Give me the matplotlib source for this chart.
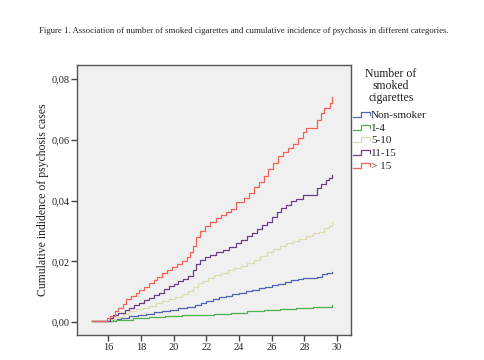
import matplotlib
matplotlib.use("Agg")
import matplotlib.pyplot as plt
from matplotlib.lines import Line2D
from matplotlib.legend_handler import HandlerLine2D
from matplotlib.ticker import FuncFormatter

plt.rcParams['font.family'] = ['Liberation Serif', 'DejaVu Serif']

# dados (idade, incidencia acumulada)
ageNonSmoker = [15.0, 16.3, 16.8, 17.3, 17.8, 18.3, 18.8, 19.3, 19.8, 20.3, 20.8, 21.3, 21.7, 22.0,
                22.4, 22.8, 23.2, 23.6, 24.0, 24.4, 24.8, 25.2, 25.6, 26.0, 26.4, 26.8, 27.2, 27.6,
                27.9, 28.8, 29.1, 29.4, 29.7]
valNonSmoker = [0.0005, 0.0010, 0.0014, 0.0019, 0.0023, 0.0028, 0.0032, 0.0036, 0.0041, 0.0045,
                0.0050, 0.0055, 0.0062, 0.0070, 0.0076, 0.0082, 0.0087, 0.0091, 0.0095, 0.0101,
                0.0107, 0.0112, 0.0117, 0.0122, 0.0127, 0.0132, 0.0137, 0.0141, 0.0145, 0.0150,
                0.0158, 0.0162, 0.0166]

age1to4 = [15.0, 16.5, 17.5, 18.5, 19.5, 20.5, 21.5, 22.5, 23.5, 24.5, 25.5, 26.5, 27.5, 28.5, 29.7]
val1to4 = [0.0005, 0.0008, 0.0012, 0.0016, 0.0019, 0.0022, 0.0024, 0.0027, 0.0031, 0.0035,
           0.0039, 0.0043, 0.0047, 0.0051, 0.0056]

age5to10 = [15.0, 16.1, 16.5, 16.9, 17.3, 17.7, 18.1, 18.5, 18.9, 19.3, 19.7, 20.1, 20.5, 20.9,
            21.2, 21.5, 21.8, 22.1, 22.5, 22.9, 23.3, 23.7, 24.1, 24.5, 24.9, 25.3, 25.7, 26.1,
            26.5, 26.9, 27.3, 27.7, 28.1, 28.5, 28.9, 29.2, 29.5, 29.7]
val5to10 = [0.0005, 0.0010, 0.0018, 0.0026, 0.0035, 0.0042, 0.0048, 0.0054, 0.0062, 0.0068,
            0.0075, 0.0082, 0.0092, 0.0102, 0.0115, 0.0128, 0.0136, 0.0145, 0.0155, 0.0162,
            0.0170, 0.0177, 0.0185, 0.0195, 0.0205, 0.0218, 0.0230, 0.0240, 0.0250, 0.0260,
            0.0268, 0.0275, 0.0282, 0.0292, 0.0298, 0.0310, 0.0318, 0.0330]

age11to15 = [15.0, 16.1, 16.3, 16.6, 17.0, 17.3, 17.6, 17.9, 18.2, 18.5, 18.8, 19.1, 19.4, 19.7,
             20.0, 20.3, 20.6, 20.9, 21.2, 21.4, 21.6, 21.9, 22.2, 22.6, 23.0, 23.4, 23.8, 24.1,
             24.5, 24.8, 25.1, 25.4, 25.7, 26.0, 26.3, 26.6, 26.9, 27.2, 27.5, 27.9, 28.8, 29.0,
             29.3, 29.5, 29.7]
val11to15 = [0.0005, 0.0012, 0.0022, 0.0030, 0.0040, 0.0048, 0.0056, 0.0064, 0.0072, 0.0080,
             0.0088, 0.0097, 0.0108, 0.0118, 0.0126, 0.0134, 0.0142, 0.0152, 0.0170, 0.0190,
             0.0205, 0.0215, 0.0222, 0.0230, 0.0238, 0.0248, 0.0260, 0.0270, 0.0282, 0.0295,
             0.0308, 0.0320, 0.0330, 0.0345, 0.0362, 0.0375, 0.0385, 0.0398, 0.0405, 0.0418,
             0.0440, 0.0455, 0.0467, 0.0475, 0.0485]

ageOver15 = [15.0, 15.9, 16.1, 16.4, 16.6, 16.9, 17.1, 17.4, 17.7, 17.9, 18.2, 18.5, 18.8, 19.0,
             19.3, 19.6, 19.9, 20.2, 20.5, 20.8, 21.0, 21.2, 21.4, 21.6, 21.9, 22.2, 22.6, 22.9,
             23.2, 23.5, 23.8, 24.3, 24.6, 24.9, 25.2, 25.5, 25.8, 26.1, 26.4, 26.7, 27.0, 27.3,
             27.6, 27.9, 28.1, 28.8, 29.0, 29.2, 29.55, 29.7]
valOver15 = [0.0005, 0.0012, 0.0020, 0.0035, 0.0048, 0.0060, 0.0075, 0.0085, 0.0095, 0.0105,
             0.0115, 0.0128, 0.0140, 0.0150, 0.0162, 0.0172, 0.0182, 0.0192, 0.0202, 0.0215,
             0.0230, 0.0250, 0.0280, 0.0300, 0.0318, 0.0330, 0.0342, 0.0352, 0.0362, 0.0374,
             0.0395, 0.0410, 0.0425, 0.0445, 0.0462, 0.0480, 0.0505, 0.0525, 0.0548, 0.0560,
             0.0572, 0.0588, 0.0605, 0.0625, 0.0638, 0.0665, 0.0690, 0.0704, 0.0720, 0.0742]

categories = ["Non-smoker", "1-4", "5-10", "11-15", "> 15"]
ages = [ageNonSmoker, age1to4, age5to10, age11to15, ageOver15]
values = [valNonSmoker, val1to4, val5to10, val11to15, valOver15]
colors = ["#5262b2", "#4fb04f", "#dedab2", "#6a3f88", "#f2625a"]

xTicks = [16, 18, 20, 22, 24, 26, 28, 30]
yTicks = [0.00, 0.02, 0.04, 0.06, 0.08]


# icone de degrau na legenda
class StepHandler(HandlerLine2D):
    def create_artists(self, legend, orig_handle, xdescent, ydescent, width, height, fontsize, trans):
        x0 = -xdescent
        y0 = -ydescent
        xs = [x0, x0 + width * 0.45, x0 + width * 0.45, x0 + width, x0 + width]
        ys = [y0 + height * 0.1, y0 + height * 0.1, y0 + height * 0.75, y0 + height * 0.75, y0 + height * 0.35]
        line = Line2D(xs, ys, color=orig_handle.get_color(), linewidth=orig_handle.get_linewidth())
        line.set_transform(trans)
        return [line]


fig = plt.figure(figsize=(4.85, 3.6), dpi=100)
ax = fig.add_axes([0.159, 0.069, 0.565, 0.750])
ax.set_facecolor("#f0f0f0")

handles = []
for i in range(len(categories)):
    h, = ax.plot(ages[i], values[i], drawstyle='steps-post', color=colors[i], linewidth=0.9,
                 label=categories[i])
    handles.append(h)

ax.set_xlim(14.1, 30.86)
ax.set_ylim(-0.0043, 0.0846)
ax.set_xticks(xTicks)
ax.set_yticks(yTicks)
ax.yaxis.set_major_formatter(FuncFormatter(lambda v, p: ("%.2f" % v).replace(".", ",")))

for side in ["top", "right", "left", "bottom"]:
    ax.spines[side].set_color("#555555")
    ax.spines[side].set_linewidth(1.0)
ax.tick_params(direction='out', length=4, width=1, color="#444444", labelsize=7.5,
               labelcolor="#222222", pad=1.5)

ax.set_ylabel("Cumulative indidence of psychosis cases", fontsize=8.5, color="#222222", labelpad=2)
# no original o rotulo do eixo x aparece cortado na borda de baixo
ax.set_xlabel("Age (years)", fontsize=8.5, color="#222222", labelpad=10)

# titulo da legenda separado para controlar o espaco
fig.text(0.806, 0.762, "Number of\nsmoked\ncigarettes", ha='center', va='center',
         fontsize=8.5, linespacing=1.0, color="#222222")

leg = fig.legend(handles=handles, labels=categories, handler_map={Line2D: StepHandler()},
                 loc='upper left', bbox_to_anchor=(0.727, 0.694), frameon=False, fontsize=8,
                 handlelength=1.6, handletextpad=0.05, labelspacing=0.26, borderpad=0,
                 borderaxespad=0)
for t in leg.get_texts():
    t.set_color("#222222")

fig.text(0.502, 0.914, "Figure 1. Association of number of smoked cigarettes and cumulative incidence "
         "of psychosis in different categories.", ha='center', va='center', fontsize=6.3,
         color="#222222")

plt.savefig('out.png', dpi=100)
